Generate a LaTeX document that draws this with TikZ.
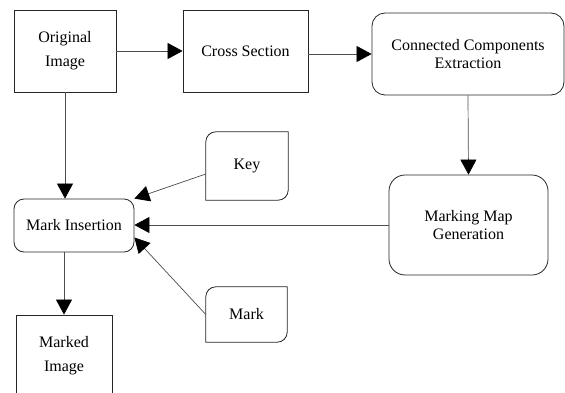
\documentclass[tikz,border=0pt]{standalone}
\usepackage{fontspec}
\setmainfont{Liberation Serif}
\usetikzlibrary{arrows.meta}
\begin{document}
\begin{tikzpicture}[x=1pt,y=1pt,
  font=\fontsize{16}{18}\selectfont,
  box/.style={draw=black!85, line width=0.8pt, align=center, inner sep=0pt},
  rbox/.style={box, rounded corners=13pt},
  card/.style={align=center, inner sep=0pt},
  conn/.style={draw=black!70, line width=0.7pt, -{Triangle[length=15pt,width=16pt,color=black]}},
  cardline/.style={draw=black!85, line width=0.8pt}]
\useasboundingbox (0,0) rectangle (565,392);
\clip (0,0) rectangle (565,392);
\node[box, minimum width=102, minimum height=82] (oi) at (65,341) {Original\\[6pt]Image};
\node[box, minimum width=125, minimum height=82] (cs) at (245.5,341) {\raisebox{-3pt}{Cross Section}};
\node[rbox, minimum width=192, minimum height=82] (cc) at (468,338) {Connected Components\\Extraction};
\node[rbox, minimum width=159, minimum height=100, rounded corners=16pt] (mmg) at (468.5,167) {Marking Map\\Generation};
\node[rbox, minimum width=120, minimum height=53, rounded corners=10pt] (mi) at (74,166.5) {Mark Insertion};
\node[card, minimum width=82, minimum height=68] (key) at (247,226) {Key};
\node[card, minimum width=81, minimum height=55] (mark) at (246.5,77.5) {Mark};
\node[box, minimum width=96, minimum height=82] (mimg) at (64,36) {Marked\\[6pt]Image};
% card shapes: rounded top-left and bottom-right
\foreach \n in {key,mark}{
  \draw[cardline] ([yshift=-10pt]\n.north west) arc[start angle=180,end angle=90,radius=10pt]
    -- (\n.north east) -- ([yshift=10pt]\n.south east) arc[start angle=0,end angle=-90,radius=10pt]
    -- (\n.south west) -- cycle;
}
% connectors
\draw[conn] (oi.east) -- (cs.west);
\draw[conn] (cs.east |- cc.west) -- (cc.west);
\draw[conn] (cc.south) -- (mmg.north);
\draw[conn] (mmg.west) -- (mi.east |- mmg.west);
\draw[conn] ([yshift=-8pt]key.west) -- (mi.north east);
\draw[conn] (mark.west) -- ([yshift=-12pt]mi.east);
\draw[conn] (oi.south) -- (oi.south |- mi.north);
\draw[conn] (mimg.north |- mi.south) -- (mimg.north);
\end{tikzpicture}
\end{document}
